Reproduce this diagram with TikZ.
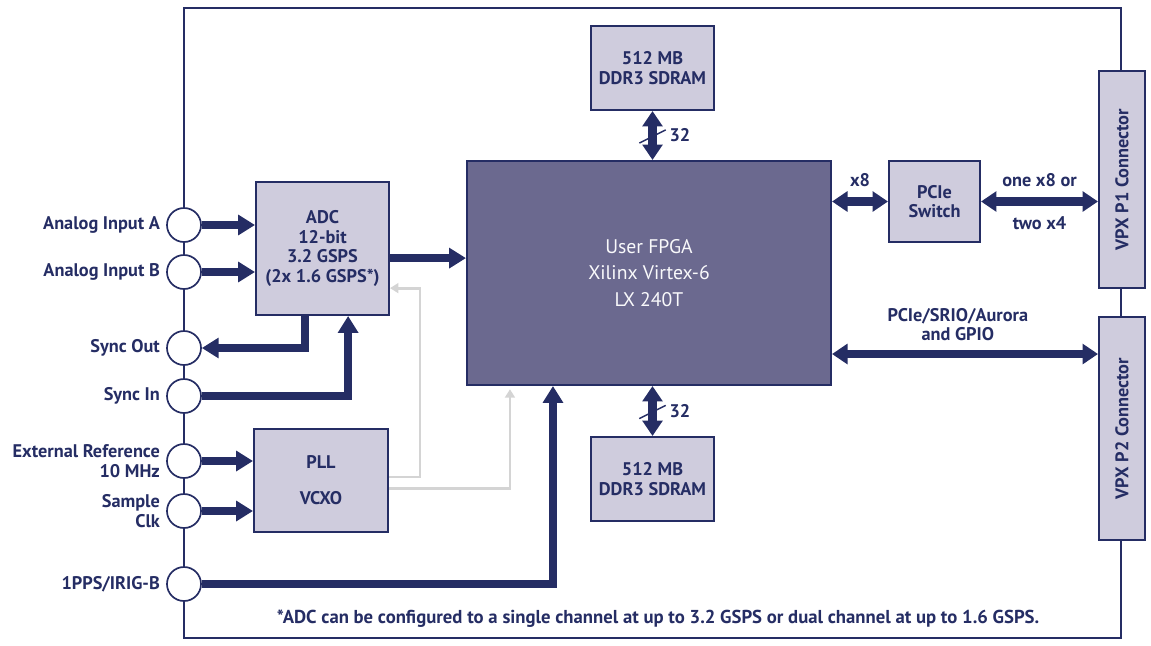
\documentclass[tikz,border=0pt]{standalone}
\usepackage{fontspec}
\setmainfont{PT Sans}
\usetikzlibrary{arrows.meta,positioning,calc}
\definecolor{navy}{HTML}{252D64}
\definecolor{boxfill}{HTML}{CFCCDD}
\definecolor{fpgafill}{HTML}{6B698F}
\definecolor{clkgray}{HTML}{D4D4D4}
\begin{document}
\begin{tikzpicture}[
        x=0.025cm, y=-0.025cm,
        font=\fontsize{13}{13.8}\selectfont\bfseries,
        every node/.style={text=navy},
        board/.style={draw=navy, line width=1.1pt, minimum width=23.425cm, minimum height=15.75cm},
        block/.style={draw=navy, line width=1.4pt, fill=boxfill, align=center, inner sep=0pt},
        fpgablock/.style={draw=navy, line width=1.4pt, fill=fpgafill, text=white!88!boxfill, align=center,
            font=\fontsize{14}{18.8}\selectfont, minimum width=9.1cm, minimum height=5.6cm},
        vpx/.style={block, rotate=90, minimum width=5.4cm, minimum height=1.15cm},
        port/.style={circle, draw=navy, fill=white, line width=1.2pt, minimum size=0.85cm, inner sep=0pt},
        portlabel/.style={align=right, inner sep=0pt, left=0.15cm of #1},
        buslabel/.style={inner sep=0pt, align=center},
        bus/.style={draw=navy, line width=6pt, -{Triangle[length=12pt,width=14pt]}},
        bibus/.style={draw=navy, line width=6pt, {Triangle[length=11pt,width=14pt]}-{Triangle[length=11pt,width=14pt]}},
        clk/.style={draw=clkgray, line width=2pt, -{Triangle[length=6pt,width=7pt]}},
        slash/.style={draw=navy, line width=1pt}
    ]
        \useasboundingbox (0,0) rectangle (1151,645);

        % Board outline and VPX connectors
        \node[board] (board) at (652.5,323) {};
        \node[vpx] (p1) at (1122,179.5) {VPX P1 Connector};
        \node[vpx, minimum width=5.575cm] (p2) at (1122,428.5) {VPX P2 Connector};

        % Front panel ports
        \node[port] (aina) at (184,225) {};
        \node[port] (ainb) at (184,272) {};
        \node[port] (syncout) at (184,348) {};
        \node[port] (syncin) at (184,396) {};
        \node[port] (extref) at (184,461) {};
        \node[port] (sclk) at (184,511) {};
        \node[port] (pps) at (184,584) {};
        \node[portlabel=aina] {Analog Input A};
        \node[portlabel=ainb] {Analog Input B};
        \node[portlabel=syncout] {Sync Out};
        \node[portlabel=syncin] {Sync In};
        \node[portlabel=extref] {External Reference\\10 MHz};
        \node[portlabel=sclk] {Sample\\Clk};
        \node[portlabel=pps] {1PPS/IRIG-B};

        % Blocks
        \node[block, minimum width=3.325cm, minimum height=3.325cm] (adc) at (322.5,248.5)
            {ADC\\12-bit\\3.2 GSPS\\(2x 1.6 GSPS*)};
        \node[block, minimum width=3.35cm, minimum height=2.575cm] (pll) at (321,480.5)
            {PLL\\[4.2mm]VCXO};
        \node[fpgablock] (fpga) at (649,273) {User FPGA\\Xilinx Virtex-6\\LX 240T};
        \node[block, minimum width=3.075cm, minimum height=2.1cm] (ddrtop) at (652.5,68) {512 MB\\DDR3 SDRAM};
        \node[block, minimum width=3.075cm, minimum height=2.1cm] (ddrbot) at (652.5,479) {512 MB\\DDR3 SDRAM};
        \node[block, minimum width=2.275cm, minimum height=2.025cm] (pcie) at (934.5,201.5) {PCIe\\Switch};

        % Clock distribution
        \draw[clk] ([yshift=0.09cm]pll.east) -| ([xshift=0.75cm,yshift=-0.99cm]adc.east) -- ([yshift=-0.99cm]adc.east);
        \draw[clk] ([yshift=-0.19cm]pll.east) -| ([xshift=-3.475cm,yshift=-0.08cm]fpga.south);

        % Front panel signals
        \draw[bus] (aina.east) -- (aina.east -| adc.west);
        \draw[bus] (ainb.east) -- (ainb.east -| adc.west);
        \draw[bus] ([xshift=-0.44cm]adc.south) |- (syncout.east);
        \draw[bus] (syncin.east) -| ([xshift=0.64cm]adc.south);
        \draw[bus] (extref.east) -- (extref.east -| pll.west);
        \draw[bus] (sclk.east) -- (sclk.east -| pll.west);
        \draw[bus] (pps.east) -| ([xshift=-2.4cm]fpga.south);
        \draw[bus] ([yshift=-0.24cm]adc.east) -- ([yshift=-0.24cm]adc.east -| fpga.west);

        % Memory buses
        \draw[bibus] (ddrtop.south) -- coordinate[pos=0.5] (m32t) (ddrtop.south |- fpga.north);
        \draw[bibus] (ddrbot.north |- fpga.south) -- coordinate[pos=0.5] (m32b) (ddrbot.north);
        \draw[slash] ([shift={(-0.33cm,-0.19cm)}]m32t) -- ([shift={(0.33cm,0.14cm)}]m32t);
        \draw[slash] ([shift={(-0.33cm,-0.19cm)}]m32b) -- ([shift={(0.33cm,0.14cm)}]m32b);
        \node[buslabel, anchor=west] (w32t) at ([xshift=0.42cm]m32t) {32};
        \node[buslabel, anchor=west] (w32b) at ([xshift=0.42cm]m32b) {32};

        % Backplane links (p1.north / p2.north face left after rotation)
        \draw[bibus] (fpga.east |- pcie.west) -- node[buslabel, above=0.26cm] {x8} (pcie.west);
        \draw[bibus] (pcie.east) -- node[buslabel, above=0.26cm] {one x8 or}
            node[buslabel, below=0.26cm] {two x4} (pcie.east -| p1.north);
        \draw[bibus] ([yshift=-2.025cm]fpga.east) -- node[buslabel, above=0.22cm, xshift=-0.18cm] {PCIe/SRIO/Aurora\\and GPIO}
            ([yshift=-2.025cm]fpga.east -| p2.north);

        % Footnote
        \node[font=\fontsize{13.3}{14}\selectfont\bfseries] (note) at (658,619)
            {*ADC can be configured to a single channel at up to 3.2 GSPS or dual channel at up to 1.6 GSPS.};
    \end{tikzpicture}
\end{document}
